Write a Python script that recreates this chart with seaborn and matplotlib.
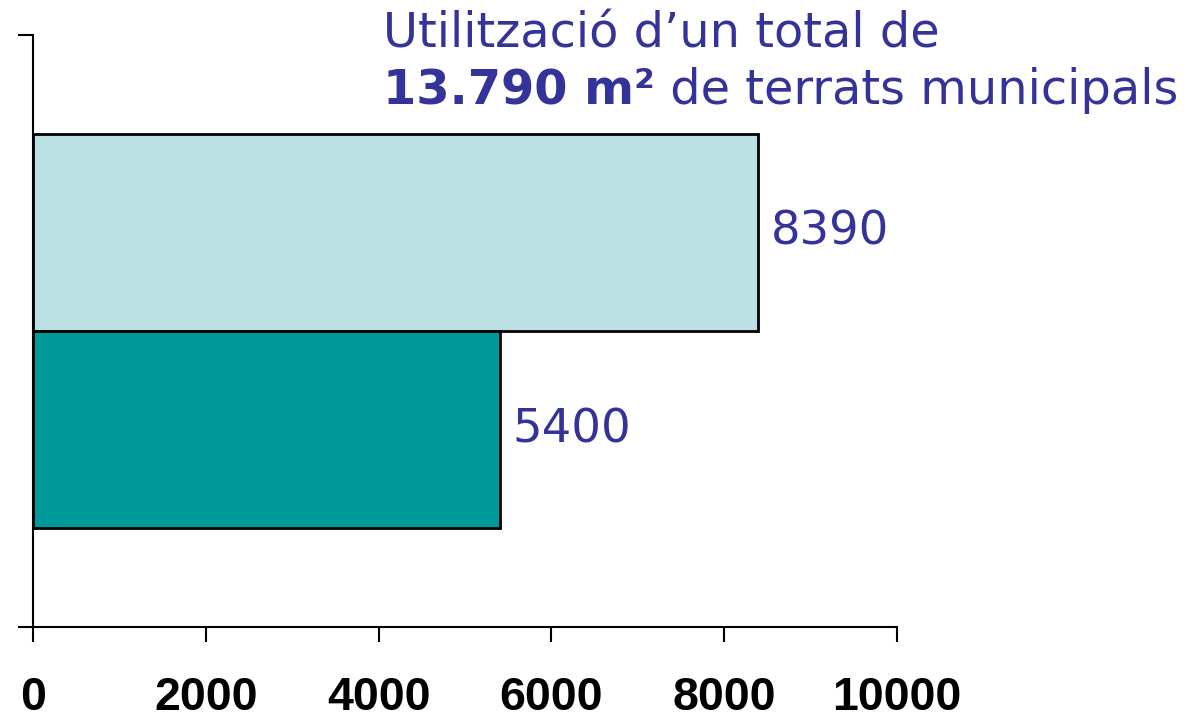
import matplotlib
matplotlib.use("Agg")
import matplotlib.pyplot as plt
import seaborn as sns
import pandas as pd

# data
categories = ["Terrats totals", "Terrats utilitzats"]
values = [8390, 5400]
bar_colors = ["#BBE0E3", "#009999"]
xticks = [0, 2000, 4000, 6000, 8000, 10000]

title_line1 = "Utilització d\u2019un total de"
title_bold = "13.790 m\u00b2"
title_rest = " de terrats municipals"
text_color = "#333399"

df = pd.DataFrame({"cat": categories, "val": values})

sns.set_style("white")
plt.rcParams["font.family"] = ["DejaVu Sans"]

fig = plt.figure(figsize=(11.96, 7.21), dpi=100)
ax = fig.add_axes([33 / 1196, 1 - 627 / 721, (897 - 33) / 1196, (627 - 35) / 721])

sns.barplot(data=df, y="cat", x="val", hue="cat", palette=bar_colors,
            orient="h", width=1.0, edgecolor="black", linewidth=2,
            saturation=1, legend=False, ax=ax)

for cont in ax.containers:
    ax.bar_label(cont, padding=9, fontsize=33.5, color=text_color)

ax.set_xlim(0, 10000)
ax.set_ylim(2, -1)
ax.set_yticks([-1, 2])
ax.set_yticklabels(["", ""])
ax.set_xticks(xticks)
ax.set_xticklabels([str(t) for t in xticks], fontsize=33.5, fontweight="bold",
                   family="Liberation Sans")
ax.set_xlabel("")
ax.set_ylabel("")
ax.tick_params(axis="x", bottom=True, direction="out", length=11, width=1.5,
               pad=24, color="black", labelcolor="black")
ax.tick_params(axis="y", left=True, direction="out", length=11, width=1.5,
               color="black")

sns.despine(ax=ax, top=True, right=True)
for side in ["left", "bottom"]:
    ax.spines[side].set_color("black")
    ax.spines[side].set_linewidth(1.5)

# title text in the upper right
fig.text(383 / 1196, 1 - 47 / 721, title_line1, fontsize=34.5, color=text_color,
         ha="left", va="baseline")
t_bold = fig.text(383 / 1196, 1 - 104 / 721, title_bold, fontsize=34.5,
                  fontweight="bold", color=text_color, ha="left", va="baseline")
fig.canvas.draw()
bb = t_bold.get_window_extent(fig.canvas.get_renderer())
fig.text(bb.x1 / fig.bbox.width, 1 - 104 / 721, title_rest, fontsize=34.5,
         color=text_color, ha="left", va="baseline")

fig.savefig("out.png", dpi=100)
